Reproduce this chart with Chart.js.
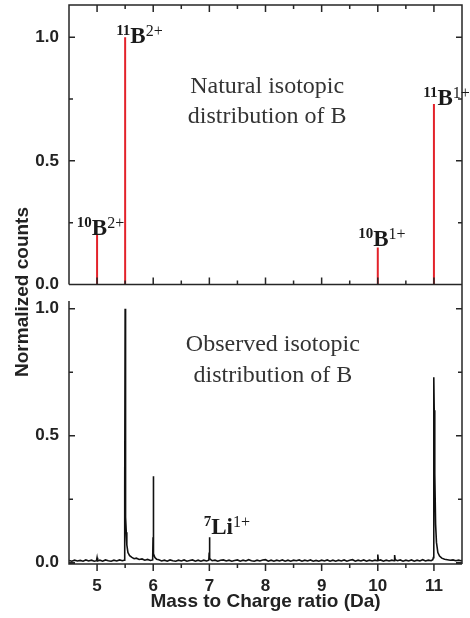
<!DOCTYPE html>
<html>
<head>
<meta charset="utf-8">
<script src="https://cdn.jsdelivr.net/npm/chart.js@4.4.0/dist/chart.umd.min.js"></script>
<style>
  html, body { margin: 0; padding: 0; background: #fff; }
  canvas { display: block; }
</style>
</head>
<body>
<canvas id="spectrum" width="470" height="618"></canvas>
<script>
// natural isotopic distribution (top panel, red sticks)
const stickMz = [5.0, 5.5, 10.0, 11.0];
const stickCounts = [0.2, 1.0, 0.15, 0.73];

// observed spectrum (bottom panel)
const obsMz = [
  4.50, 4.55, 4.60, 4.65, 4.70, 4.75, 4.80, 4.85, 4.90, 4.95, 4.99, 5.00, 5.01, 5.05, 5.10, 5.15, 5.20, 5.25, 5.30, 5.35, 5.40, 5.45,
  5.48, 5.49, 5.495, 5.50, 5.505, 5.51, 5.52, 5.53, 5.55, 5.58, 5.62, 5.66, 5.70, 5.75, 5.80, 5.85, 5.90, 5.95,
  5.99, 5.997, 6.00, 6.004, 6.01, 6.03, 6.06, 6.10, 6.15, 6.20, 6.25, 6.30, 6.35, 6.40, 6.45, 6.50, 6.55, 6.60, 6.65, 6.70, 6.75, 6.80, 6.85, 6.90, 6.95,
  6.99, 6.997, 7.00, 7.005, 7.01, 7.03, 7.05, 7.10, 7.15, 7.20, 7.25, 7.30, 7.35, 7.40, 7.45, 7.50, 7.55, 7.60, 7.65, 7.70, 7.75, 7.80, 7.85, 7.90, 7.95,
  8.00, 8.05, 8.10, 8.15, 8.20, 8.25, 8.30, 8.35, 8.40, 8.45, 8.50, 8.55, 8.60, 8.65, 8.70, 8.75, 8.80, 8.85, 8.90, 8.95,
  9.00, 9.05, 9.10, 9.15, 9.20, 9.25, 9.30, 9.35, 9.40, 9.45, 9.50, 9.55, 9.60, 9.65, 9.70, 9.75, 9.80, 9.85, 9.90, 9.95,
  9.99, 10.00, 10.01, 10.05, 10.10, 10.15, 10.20, 10.25, 10.29, 10.30, 10.31, 10.35, 10.40, 10.45, 10.50, 10.55, 10.60, 10.65, 10.70, 10.75, 10.80, 10.85, 10.90, 10.95, 10.98,
  10.99, 10.995, 11.00, 11.005, 11.015, 11.03, 11.045, 11.07, 11.10, 11.14, 11.19, 11.24, 11.29, 11.34, 11.39, 11.44, 11.48, 11.50
];
const obsCounts = [
  0.009, 0.006, 0.010, 0.007, 0.009, 0.006, 0.011, 0.007, 0.010, 0.006, 0.008, 0.020, 0.007, 0.010, 0.006, 0.011, 0.008, 0.006, 0.010, 0.007, 0.011, 0.008,
  0.010, 0.013, 0.30, 1.00, 0.45, 0.18, 0.12, 0.07, 0.040, 0.028, 0.021, 0.016, 0.018, 0.013, 0.015, 0.010, 0.013, 0.009,
  0.011, 0.10, 0.34, 0.09, 0.035, 0.020, 0.014, 0.012, 0.007, 0.010, 0.006, 0.011, 0.008, 0.006, 0.010, 0.007, 0.011, 0.006, 0.009, 0.011, 0.006, 0.010, 0.006, 0.010, 0.007,
  0.010, 0.040, 0.100, 0.030, 0.016, 0.011, 0.008, 0.010, 0.006, 0.010, 0.011, 0.007, 0.010, 0.006, 0.009, 0.011, 0.006, 0.010, 0.007, 0.012, 0.008, 0.006, 0.010, 0.007, 0.011,
  0.012, 0.006, 0.010, 0.006, 0.010, 0.007, 0.011, 0.006, 0.010, 0.006, 0.010, 0.008, 0.011, 0.006, 0.010, 0.007, 0.011, 0.006, 0.009, 0.006,
  0.010, 0.007, 0.011, 0.006, 0.010, 0.006, 0.010, 0.007, 0.011, 0.006, 0.010, 0.012, 0.006, 0.010, 0.007, 0.011, 0.006, 0.010, 0.007, 0.010,
  0.008, 0.032, 0.009, 0.011, 0.006, 0.010, 0.007, 0.010, 0.008, 0.030, 0.012, 0.008, 0.011, 0.006, 0.010, 0.007, 0.011, 0.006, 0.010, 0.007, 0.012, 0.007, 0.010, 0.008, 0.012,
  0.020, 0.25, 0.73, 0.60, 0.35, 0.15, 0.08, 0.040, 0.026, 0.018, 0.014, 0.012, 0.010, 0.011, 0.008, 0.010, 0.008, 0.009
];

// annotations, in data units of the panel they sit in
const panelNotes = [
  { axis: 'yTop', x: 8.03, y: 0.773, text: 'Natural isotopic' },
  { axis: 'yTop', x: 8.03, y: 0.652, text: 'distribution of B' },
  { axis: 'yBot', x: 8.13, y: 0.835, text: 'Observed isotopic' },
  { axis: 'yBot', x: 8.13, y: 0.713, text: 'distribution of B' }
];
const ionLabels = [
  { axis: 'yTop', x: 5.34, y: 0.976, mass: '11', el: 'B', charge: '2+' },
  { axis: 'yTop', x: 4.64, y: 0.202, mass: '10', el: 'B', charge: '2+' },
  { axis: 'yTop', x: 9.65, y: 0.154, mass: '10', el: 'B', charge: '1+' },
  { axis: 'yTop', x: 10.81, y: 0.725, mass: '11', el: 'B', charge: '1+' },
  { axis: 'yBot', x: 6.90, y: 0.114, mass: '7', el: 'Li', charge: '1+' }
];

// sticks drawn as one line with gaps between them
const stickPoints = [];
stickMz.forEach((m, i) => {
  stickPoints.push({ x: m, y: 0 }, { x: m, y: stickCounts[i] }, { x: m, y: null });
});
const obsPoints = obsMz.map((m, i) => ({ x: m, y: obsCounts[i] }));

const halfTicks = (v) => {
  const d = v * 2;
  return Math.abs(d - Math.round(d)) < 1e-6 && v > -0.01 && v < 1.01 ? v.toFixed(1) : '';
};

const axisFont = { family: 'Arial, "Liberation Sans", sans-serif', size: 17, weight: 'bold' };
const frameColor = '#262626';

// fixed axis boxes, no extra label overflow padding
const fixY = (s) => { s.width = 69; s.paddingTop = 0; s.paddingBottom = 0; };
const fixX = (s) => { s.height = 54; s.paddingLeft = 0; s.paddingRight = 0; };

const framePlugin = {
  id: 'frame',
  afterDatasetsDraw(chart) {
    const { ctx, scales } = chart;
    const x = scales.x, yT = scales.yTop, yB = scales.yBot;
    const L = x.left, R = x.right;
    ctx.save();
    ctx.strokeStyle = frameColor;
    ctx.lineWidth = 1.5;
    ctx.beginPath();
    // top panel box
    ctx.moveTo(L, yT.bottom); ctx.lineTo(L, yT.top); ctx.lineTo(R, yT.top); ctx.lineTo(R, yB.bottom);
    ctx.moveTo(L, yT.bottom); ctx.lineTo(R, yT.bottom);
    // bottom panel
    ctx.moveTo(L, yB.getPixelForValue(1.03)); ctx.lineTo(L, yB.bottom); ctx.lineTo(R, yB.bottom);
    // x ticks
    for (let k = 10; k <= 22; k++) {
      const v = k / 2;
      const px = x.getPixelForValue(v);
      const len = k % 2 === 0 ? 7 : 4;
      ctx.moveTo(px, yT.top); ctx.lineTo(px, yT.top + len);
      ctx.moveTo(px, yT.bottom); ctx.lineTo(px, yT.bottom - len);
      ctx.moveTo(px, yB.bottom); ctx.lineTo(px, yB.bottom + len);
    }
    // y ticks
    for (let k = 0; k <= 4; k++) {
      const v = k / 4;
      const len = k % 2 === 0 ? 6 : 4;
      [yT, yB].forEach((s) => {
        const py = s.getPixelForValue(v);
        ctx.moveTo(L, py); ctx.lineTo(L + len, py);
        ctx.moveTo(R, py); ctx.lineTo(R - len, py);
      });
    }
    ctx.stroke();

    // panel captions
    ctx.fillStyle = '#333';
    ctx.font = '24px "Liberation Serif", "Times New Roman", serif';
    ctx.textAlign = 'center';
    ctx.textBaseline = 'alphabetic';
    panelNotes.forEach((n) => {
      ctx.fillText(n.text, x.getPixelForValue(n.x), scales[n.axis].getPixelForValue(n.y));
    });

    // ion labels like 11B2+
    ctx.textAlign = 'left';
    ctx.fillStyle = '#1a1a1a';
    ionLabels.forEach((l) => {
      let px = x.getPixelForValue(l.x);
      const py = scales[l.axis].getPixelForValue(l.y);
      ctx.font = 'bold 15px "Liberation Serif", "Times New Roman", serif';
      ctx.fillText(l.mass, px, py - 8);
      px += ctx.measureText(l.mass).width;
      ctx.font = 'bold 23px "Liberation Serif", "Times New Roman", serif';
      ctx.fillText(l.el, px, py);
      px += ctx.measureText(l.el).width;
      ctx.font = '16px "Liberation Serif", "Times New Roman", serif';
      ctx.fillText(l.charge, px, py - 7);
    });

    // shared y title
    ctx.save();
    ctx.translate(28, 292);
    ctx.rotate(-Math.PI / 2);
    ctx.textAlign = 'center';
    ctx.fillStyle = '#222';
    ctx.font = 'bold 19px Arial, "Liberation Sans", sans-serif';
    ctx.fillText('Normalized counts', 0, 0);
    ctx.restore();
    ctx.restore();
  }
};

new Chart(document.getElementById('spectrum'), {
  type: 'line',
  data: {
    datasets: [{
      label: 'Natural',
      data: stickPoints,
      yAxisID: 'yTop',
      borderColor: '#e3222a',
      borderWidth: 2,
      pointRadius: 0,
      spanGaps: false
    }, {
      label: 'Observed',
      data: obsPoints,
      yAxisID: 'yBot',
      borderColor: '#111',
      borderWidth: 1.6,
      pointRadius: 0
    }]
  },
  options: {
    responsive: false,
    animation: false,
    devicePixelRatio: 1,
    layout: { padding: { top: 5, right: 8, left: 0, bottom: 0 } },
    plugins: { legend: { display: false }, tooltip: { enabled: false } },
    scales: {
      x: {
        type: 'linear',
        min: 4.5, max: 11.5,
        grid: { display: false, drawTicks: false },
        border: { display: false },
        ticks: { stepSize: 0.5, autoSkip: false, maxRotation: 0, padding: 12, color: '#222', font: axisFont,
          callback: (v) => Number.isInteger(v) ? String(v) : '' },
        title: { display: true, text: 'Mass to Charge ratio (Da)', color: '#222', padding: { top: 0, bottom: 5 },
          font: { family: 'Arial, "Liberation Sans", sans-serif', size: 19, weight: 'bold' } },
        afterFit: fixX
      },
      // stacked left axes: the one listed last ends up on top
      yBot: {
        type: 'linear', position: 'left', stack: 'panels', stackWeight: 1,
        min: -0.005, max: 1.095,
        grid: { display: false, drawTicks: false },
        border: { display: false },
        ticks: { stepSize: 0.25, includeBounds: false, autoSkip: false, padding: 10, color: '#222', font: axisFont, callback: halfTicks },
        afterFit: fixY
      },
      yTop: {
        type: 'linear', position: 'left', stack: 'panels', stackWeight: 1,
        min: 0, max: 1.13,
        grid: { display: false, drawTicks: false },
        border: { display: false },
        ticks: { stepSize: 0.25, includeBounds: false, autoSkip: false, padding: 10, color: '#222', font: axisFont, callback: halfTicks },
        afterFit: fixY
      }
    }
  },
  plugins: [framePlugin]
});
</script>
</body>
</html>
